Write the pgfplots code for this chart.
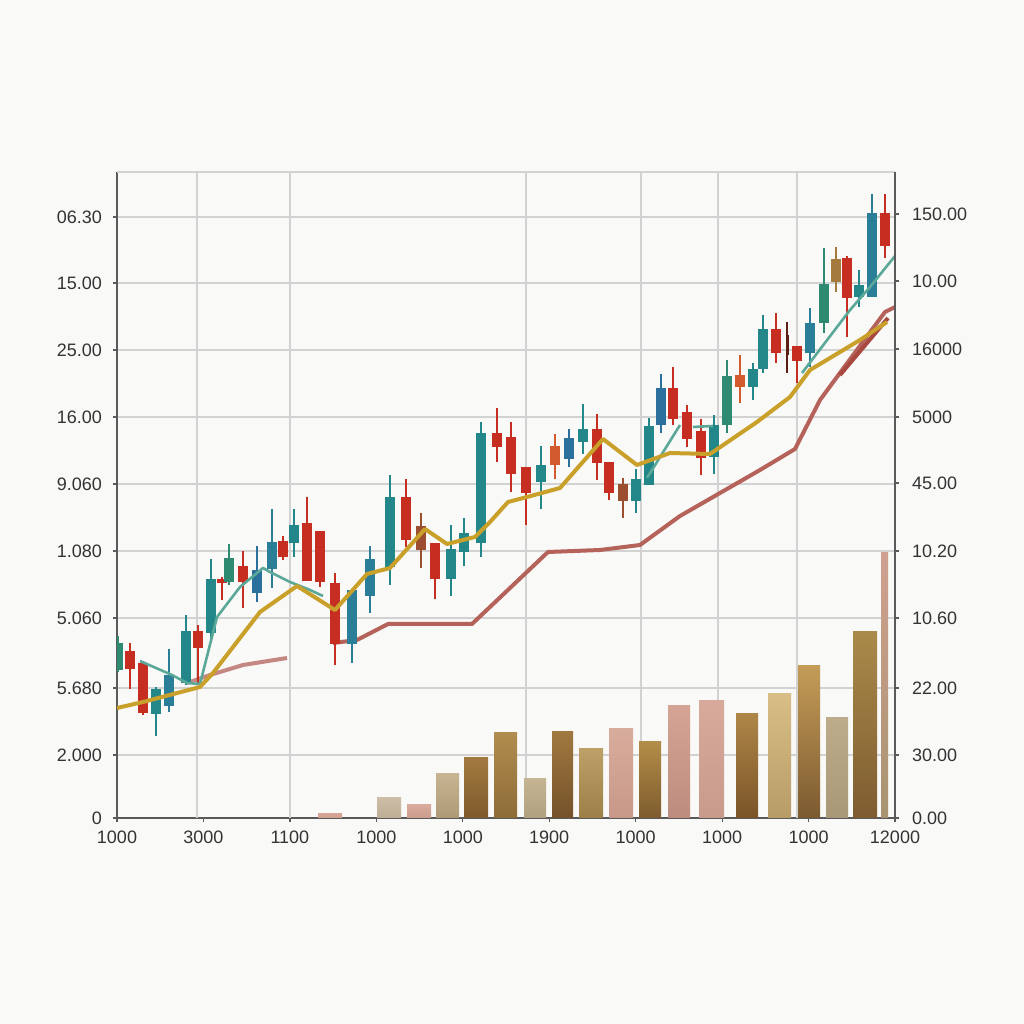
\documentclass[border=0pt]{standalone}
\usepackage{pgfplots}
\pgfplotsset{compat=1.18}
\usepackage{pgfplotstable}
\usepackage{fontspec}
\setmainfont{Liberation Sans}

\definecolor{bgcol}{HTML}{F9F9F8}
\definecolor{gridcol}{HTML}{D2D2D2}
\definecolor{axiscol}{HTML}{5A5A5A}
\definecolor{labcol}{HTML}{333333}
\definecolor{cred}{HTML}{C62E22}
\definecolor{cteal}{HTML}{23878A}
\definecolor{ctealg}{HTML}{2E8B72}
\definecolor{cbluet}{HTML}{2A7E98}
\definecolor{cblue}{HTML}{2B6F9C}
\definecolor{cbrown}{HTML}{9C4E30}
\definecolor{corange}{HTML}{D25A2C}
\definecolor{cgoldb}{HTML}{A47B3C}
\definecolor{cdark}{HTML}{5B1F14}
\definecolor{lgold}{HTML}{C9A02A}
\definecolor{lred}{HTML}{B4625A}
\definecolor{lred2}{HTML}{A8483E}
\definecolor{lteal}{HTML}{5BA898}

% bar colours (top / bottom)
\definecolor{at}{HTML}{D6A496}\definecolor{ab}{HTML}{CFA090}
\definecolor{bt}{HTML}{CDBDA6}\definecolor{bb}{HTML}{BFAE96}
\definecolor{ct}{HTML}{D8AA9C}\definecolor{cb}{HTML}{CC9C8E}
\definecolor{dt}{HTML}{C6B492}\definecolor{db}{HTML}{AE9A76}
\definecolor{et}{HTML}{A27A40}\definecolor{eb}{HTML}{7E5A2C}
\definecolor{ft}{HTML}{B08C4E}\definecolor{fb}{HTML}{8E6C38}
\definecolor{gt}{HTML}{C4B494}\definecolor{gb}{HTML}{B0A080}
\definecolor{ht}{HTML}{A07840}\definecolor{hb}{HTML}{74522A}
\definecolor{it}{HTML}{BDA068}\definecolor{ib}{HTML}{9C8048}
\definecolor{jt}{HTML}{D8AC9C}\definecolor{jb}{HTML}{C89888}
\definecolor{kt}{HTML}{B28C48}\definecolor{kb}{HTML}{7E5C2E}
\definecolor{lt}{HTML}{D6A494}\definecolor{lb}{HTML}{BE8C7E}
\definecolor{mt}{HTML}{D8AA9C}\definecolor{mb}{HTML}{C89A8C}
\definecolor{nt}{HTML}{AE8648}\definecolor{nb}{HTML}{7A5428}
\definecolor{ot}{HTML}{D8BE86}\definecolor{ob}{HTML}{B89C68}
\definecolor{pt}{HTML}{C49C58}\definecolor{pb}{HTML}{7C5A30}
\definecolor{qt}{HTML}{BCAC8C}\definecolor{qb}{HTML}{A89878}
\definecolor{rt}{HTML}{AA8A4A}\definecolor{rb}{HTML}{7E5C30}
\definecolor{st}{HTML}{D0A090}\definecolor{sb}{HTML}{A89470}

% candles: x, body low/high, wick low/high
\pgfplotstableread{
x blo bhi wlo whi
13 149 167 129 175
26 105 155 103 155
81 170 187 135 193
105 235 239 218 241
126 236 252 210 267
166 261 277 258 282
190 237 295 237 321
203 236 287 231 287
218 174 235 153 245
289 278 321 271 339
318 239 275 219 275
380 371 385 356 410
394 344 381 326 396
409 325 351 293 351
480 355 389 338 404
492 325 356 318 356
556 399 430 393 451
570 379 406 371 413
584 360 387 343 399
659 465 489 455 505
680 457 472 435 472
730 520 560 481 562
768 572 605 560 624
}\redtab
\pgfplotstableread{
x blo bhi wlo whi
39 104 129 82 131
69 135 187 133 203
94 185 239 175 259
177 275 293 261 309
273 251 321 233 343
334 239 269 222 293
347 266 285 252 300
364 275 385 261 396
424 336 353 309 372
466 376 389 364 414
519 317 339 305 349
532 333 392 333 400
597 361 393 344 403
636 431 449 418 455
646 449 489 445 503
742 521 533 511 548
}\tealtab
\pgfplotstableread{
x blo bhi wlo whi
1 148 175 146 182
112 236 260 233 274
610 393 442 385 458
707 495 534 485 570
}\tealgtab
\pgfplotstableread{
x blo bhi wlo whi
52 112 143 106 169
155 249 276 230 309
235 174 228 155 228
253 222 259 205 272
693 465 495 451 510
755 521 605 521 624
}\bluettab
\pgfplotstableread{
x blo bhi wlo whi
140 225 248 216 272
452 359 380 351 389
544 393 430 385 444
}\bluetab
\pgfplotstableread{
x blo bhi wlo whi
304 268 292 250 305
506 317 334 300 340
}\browntab
\pgfplotstableread{
x blo bhi wlo whi
438 353 372 339 384
623 431 443 415 463
}\orangetab
\pgfplotstableread{
x blo bhi wlo whi
719 536 559 526 571
}\goldbtab
\pgfplotstableread{
x blo bhi wlo whi
670 463 483 445 496
}\darktab

\newcommand{\candles}[3]{%
  \addplot[only marks, mark=*, mark size=0pt, mark options={draw=none, fill=none}, forget plot,
    error bars/.cd, y dir=plus, y explicit, error mark=none,
    error bar style={draw=#2, line width=1pt}]
    table[x=x, y=wlo, y error expr=\thisrow{whi}-\thisrow{wlo}] {#1};
  \addplot[only marks, mark=*, mark size=0pt, mark options={draw=none, fill=none}, forget plot,
    error bars/.cd, y dir=plus, y explicit, error mark=none,
    error bar style={draw=#2, line width=#3}]
    table[x=x, y=blo, y error expr=\thisrow{bhi}-\thisrow{blo}] {#1};}

\newcommand{\vbar}[5]{%
  \addplot[ybar, bar width=#2, bar shift=0pt, draw=none,
    top color=#4, bottom color=#5, forget plot] coordinates {(#1,#3)};}

\begin{document}
\begin{tikzpicture}
\fill[bgcol] (0,0) rectangle (512pt,512pt);
\begin{axis}[
  at={(58.5pt,103pt)}, anchor=south west, scale only axis,
  width=389pt, height=323pt,
  xmin=0, xmax=778, ymin=0, ymax=646,
  axis x line*=bottom, axis y line*=left,
  axis line style={draw=axiscol, line width=0.6pt},
  tick style={draw=axiscol, line width=0.6pt},
  major tick length=2pt, tick align=outside,
  xtick={0,86.4,172.9,259.3,345.8,432.2,518.7,605.1,691.6,778},
  xticklabels={1000,3000,1100,1000,1000,1900,1000,1000,1000,12000},
  ytick={0,63,130,200,267,334,401,468,535,601},
  yticklabels={0,2.000,5.680,5.060,1.080,9.060,16.00,25.00,15.00,06.30},
  xmajorgrids=false, ymajorgrids=true,
  grid style={draw=gridcol, line width=0.7pt},
  extra x ticks={80,173,409,524,601,680},
  extra x tick labels={},
  extra x tick style={xmajorgrids=true, major tick length=0pt},
  extra y ticks={646}, extra y tick labels={},
  extra y tick style={ymajorgrids=true, major tick length=0pt},
  ticklabel style={font=\fontsize{9}{11}\selectfont, text=labcol},
  yticklabel style={xshift=-2pt},
  xticklabel style={yshift=-1pt},
]
% volume bars
\vbar{213}{24}{4}{at}{ab}
\vbar{272}{24}{20}{bt}{bb}
\vbar{302}{24}{13}{ct}{cb}
\vbar{330.5}{23}{44}{dt}{db}
\vbar{359}{24}{60}{et}{eb}
\vbar{388.5}{23}{85}{ft}{fb}
\vbar{418}{22}{39}{gt}{gb}
\vbar{445.5}{21}{86}{ht}{hb}
\vbar{474}{24}{69}{it}{ib}
\vbar{504}{24}{89}{jt}{jb}
\vbar{533}{22}{76}{kt}{kb}
\vbar{562}{22}{112}{lt}{lb}
\vbar{594.5}{25}{117}{mt}{mb}
\vbar{630}{22}{104}{nt}{nb}
\vbar{662.5}{23}{124}{ot}{ob}
\vbar{692}{22}{152}{pt}{pb}
\vbar{720}{22}{100}{qt}{qb}
\vbar{748}{24}{186}{rt}{rb}
\vbar{767.5}{7}{265}{st}{sb}
% long moving average (red)
\addplot[lred, line width=2pt, opacity=0.75, line join=round] coordinates {(70,135) (93,143) (126,153) (170,160)};
\addplot[lred, line width=2pt, line join=round] coordinates {(216,175) (240,178) (271,194) (355,194) (431,266) (483,268) (523,273) (563,302) (603,325) (643,348) (678,369) (703,418) (731,456) (768,506) (778,511)};
\addplot[lred2, line width=2pt, line join=round] coordinates {(723,443) (771,500)};
% candles
\candles{\redtab}{cred}{5pt}
\candles{\tealtab}{cteal}{5pt}
\candles{\tealgtab}{ctealg}{5pt}
\candles{\bluettab}{cbluet}{5pt}
\candles{\bluetab}{cblue}{5pt}
\candles{\browntab}{cbrown}{5pt}
\candles{\orangetab}{corange}{5pt}
\candles{\goldbtab}{cgoldb}{5pt}
\candles{\darktab}{cdark}{1.5pt}
% short moving average (teal)
\addplot[lteal, line width=1.3pt, line join=round] coordinates {(23,157) (55,143) (70,135) (83,134) (100,201) (123,231) (146,250) (153,246) (173,236) (193,228) (206,222)};
\addplot[lteal, line width=1.3pt] coordinates {(530,340) (563,393)};
\addplot[lteal, line width=1.3pt] coordinates {(576,391) (596,392)};
\addplot[lteal, line width=1.3pt, line join=round] coordinates {(685,445) (733,508) (753,531) (778,562)};
% medium moving average (gold)
\addplot[lgold, line width=2pt, line join=round] coordinates {(0,110) (26,116) (83,131) (96,145) (143,206) (180,232) (218,208) (250,244) (273,250) (308,289) (330,274) (358,281) (373,296) (391,316) (410,321) (443,330) (486,379) (520,353) (553,365) (593,364) (640,396) (673,421) (693,448) (743,478) (770,496)};
\end{axis}
\begin{axis}[
  at={(58.5pt,103pt)}, anchor=south west, scale only axis,
  width=389pt, height=323pt,
  xmin=0, xmax=778, ymin=0, ymax=646,
  axis x line=none, axis y line*=right,
  axis line style={draw=axiscol, line width=0.6pt},
  tick style={draw=axiscol, line width=0.6pt},
  major tick length=2pt, tick align=outside,
  ytick={0,63,130,200,267,335,401,469,537,604},
  yticklabels={0.00,30.00,22.00,10.60,10.20,45.00,5000,16000,10.00,150.00},
  ticklabel style={font=\fontsize{9}{11}\selectfont, text=labcol},
  yticklabel style={xshift=3pt},
]
\addplot[draw=none, forget plot] coordinates {(0,0)};
\end{axis}
\end{tikzpicture}
\end{document}
